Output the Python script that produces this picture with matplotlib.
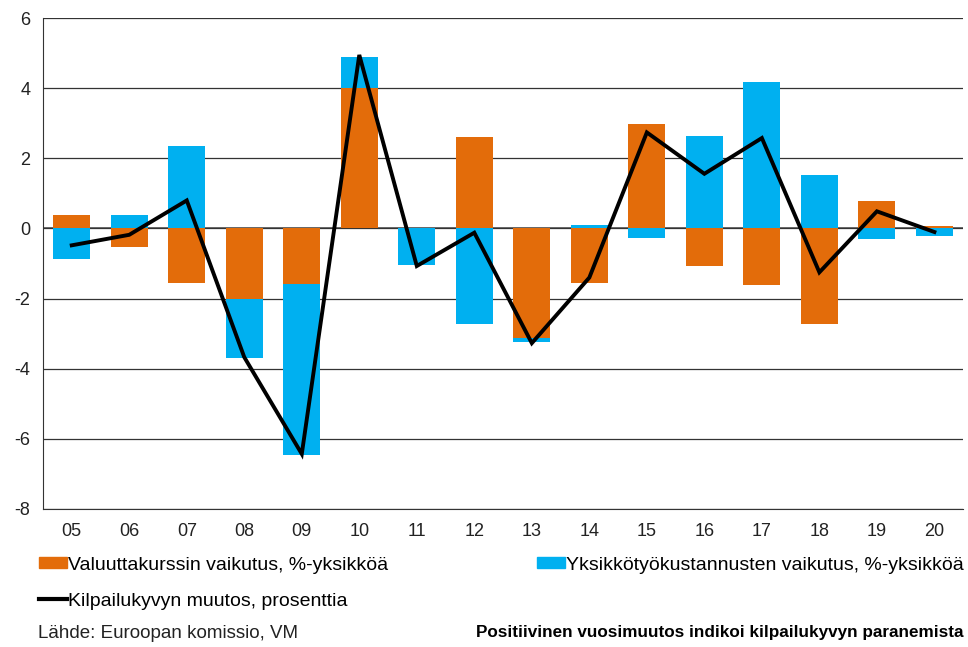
import numpy as np
import matplotlib.pyplot as plt
from matplotlib.patches import Patch
from matplotlib.lines import Line2D

plt.rcParams['font.family'] = ['Liberation Sans', 'DejaVu Sans']
plt.rcParams['axes.unicode_minus'] = False

# %% data
years = ['05', '06', '07', '08', '09', '10', '11', '12', '13', '14', '15', '16', '17', '18', '19', '20']
valuutta = [0.38, -0.54, -1.55, -2.02, -1.59, 4.01, 0.0, 2.62, -3.13, -1.55, 2.98, -1.08, -1.62, -2.72, 0.78, 0.08]
yksikko = [-0.87, 0.38, 2.35, -1.67, -4.86, 0.89, -1.05, -2.71, -0.12, 0.11, -0.28, 2.65, 4.19, 1.52, -0.31, -0.21]
kilpailukyky = [-0.48, -0.18, 0.80, -3.67, -6.43, 4.95, -1.07, -0.12, -3.27, -1.40, 2.74, 1.56, 2.58, -1.25, 0.49, -0.10]

orange = '#E36C0A'
blue = '#00B0F0'

# %% plot
fig = plt.figure(figsize=(9.68, 6.47), dpi=100)
ax = fig.add_axes([0.0444, 0.2133, 0.9506, 0.7587])

x = np.arange(len(years))
val = np.array(valuutta)
yks = np.array(yksikko)
bottom = np.where(np.sign(yks) == np.sign(val), val, 0)

ax.bar(x, val, width=0.64, color=orange, zorder=2)
ax.bar(x, yks, width=0.64, bottom=bottom, color=blue, zorder=2)
ax.plot(x, kilpailukyky, color='black', lw=2.8, zorder=3, solid_joinstyle='miter')

ax.set_ylim(-8, 6)
ax.set_xlim(-0.5, len(years) - 0.5)
ax.set_yticks(range(-8, 7, 2))
ax.set_xticks(x)
ax.set_xticklabels(years)
ax.tick_params(axis='both', length=0, labelsize=13, colors='#222222')
ax.tick_params(axis='x', pad=10)
ax.tick_params(axis='y', pad=9)

ax.yaxis.grid(True, color='#333333', lw=0.9, zorder=0)
ax.axhline(0, color='#555555', lw=1.2, zorder=1)
for s in ['top', 'right']:
    ax.spines[s].set_visible(False)
ax.spines['left'].set_color('#333333')
ax.spines['bottom'].set_color('#333333')

# legends
leg_kw = dict(loc='center left', frameon=False, fontsize=14, handlelength=1.45,
              handleheight=0.5, handletextpad=0.05, borderpad=0, borderaxespad=0)
fig.legend([Patch(color=orange)], ['Valuuttakurssin vaikutus, %-yksikköä'],
           bbox_to_anchor=(39 / 968, 1 - 565 / 647), **leg_kw)
fig.legend([Line2D([], [], color='black', lw=3)], ['Kilpailukyvyn muutos, prosenttia'],
           bbox_to_anchor=(39 / 968, 1 - 601 / 647), **leg_kw)
fig.legend([Patch(color=blue)], ['Yksikkötyökustannusten vaikutus, %-yksikköä'],
           bbox_to_anchor=(537 / 968, 1 - 565 / 647), **leg_kw)

fig.text(38 / 968, 1 - 633 / 647, 'Lähde: Euroopan komissio, VM', fontsize=13.5,
         color='#222222', va='center')
fig.text(963 / 968, 1 - 633 / 647, 'Positiivinen vuosimuutos indikoi kilpailukyvyn paranemista',
         fontsize=12.3, fontweight='bold', ha='right', va='center')

fig.savefig('out.png', dpi=100)
